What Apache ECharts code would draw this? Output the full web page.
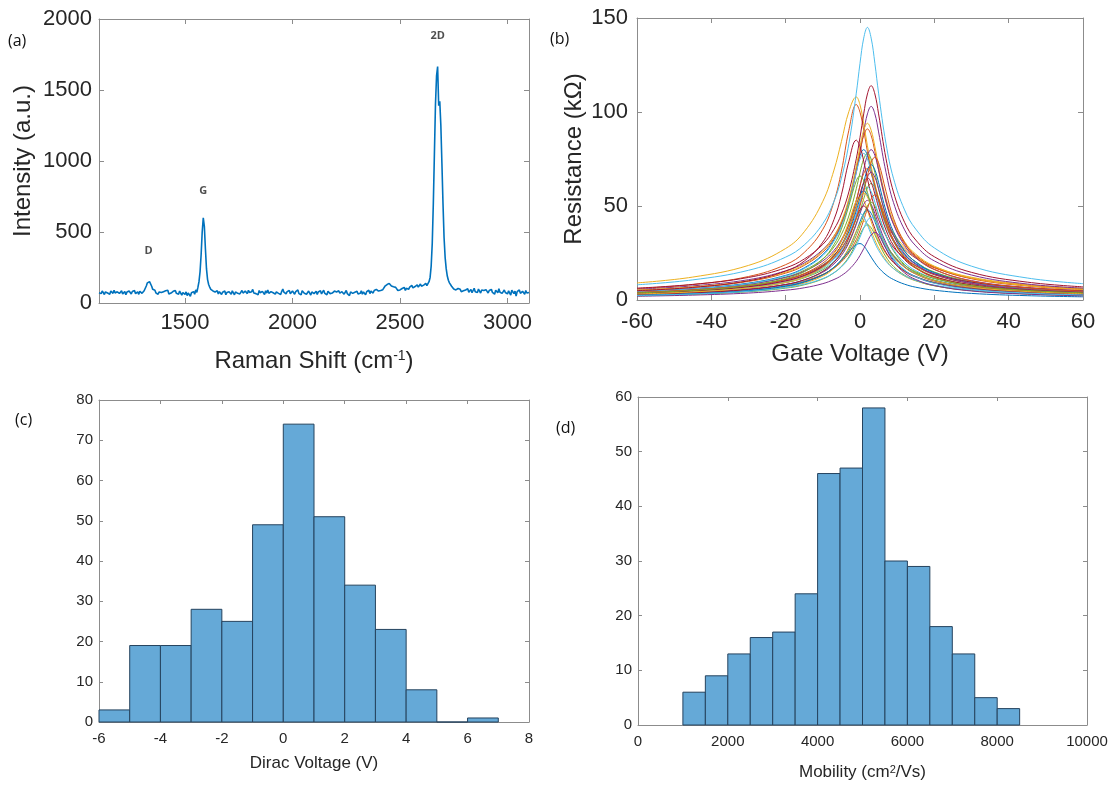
<!DOCTYPE html>
<html><head><meta charset="utf-8">
<script src="https://cdn.jsdelivr.net/npm/echarts@6/dist/echarts.min.js"></script>
<style>html,body{margin:0;padding:0;background:#fff}#c{width:1118px;height:785px}</style>
</head><body><div id="c"></div>
<script>
// ---------- (a) Raman spectrum ----------
const ramanStart = 1100, ramanStep = 5;
const ramanIntensity = [
72,80,66,85,74,60,78,88,70,76,62,84,73,68,90,71,58,79,82,67,
75,86,64,72,80,59,77,69,84,73,63,81,70,88,66,74,79,61,83,72,
68,78,86,98,120,142,155,150,140,118,96,82,90,70,84,62,78,92,74,68,
80,66,86,72,90,64,78,70,58,82,74,88,68,76,62,84,70,55,73,66,
60,78,52,70,64,48,72,58,80,62,92,75,110,150,220,340,500,600,540,380,
240,165,130,112,96,104,85,92,78,70,86,64,80,72,60,76,68,84,58,74,
66,80,70,62,86,74,58,78,92,68,82,64,76,88,70,60,84,72,66,90,
74,62,80,96,70,84,66,78,58,88,72,64,82,76,60,86,70,92,68,74,
80,66,72,84,62,78,90,68,74,60,82,98,76,86,64,80,70,88,66,76,
84,70,62,80,74,92,66,78,58,86,72,68,80,62,76,84,70,56,78,88,
66,74,82,60,78,70,86,64,72,90,68,76,58,82,74,66,80,70,62,84,
72,78,64,86,70,58,80,74,62,76,88,66,72,52,78,84,68,60,76,70,
82,64,74,68,86,62,78,70,58,80,72,90,66,84,76,70,88,82,96,92,
84,96,88,102,94,108,118,112,130,124,138,128,120,132,114,104,110,96,88,100,
92,84,102,96,110,88,104,118,96,112,100,124,106,98,116,108,128,112,120,134,
118,104,126,112,138,122,130,150,180,260,420,700,1050,1400,1600,1665,1390,1420,1250,980,
700,460,320,240,190,160,142,128,118,124,98,110,92,84,102,88,96,80,94,86,
78,92,84,100,76,88,96,72,86,104,80,90,74,98,84,70,92,80,88,76,
94,82,70,88,78,96,74,84,62,90,80,72,100,76,86,68,82,92,74,80,
64,86,72,56,90,78,66,84,48,80,74,92,68,58,82,76,62,88,70,78,
74];
const ramanTicks = [1500, 2000, 2500, 3000];
const peakNames = ['D', 'G', '2D'];
const peakLabelShift = [1330, 1585, 2675];
const peakLabelIntensity = [370, 790, 1880];

// ---------- (b) Resistance vs gate voltage ----------
const gateVoltage = [-60,-45,-30,-20,-15,-10,-7,-5,-3,-1,0,1,2,3,4,5,7,9,12,15,20,30,45,60];
const resistanceCurves = [
[4.6,6.1,9,13.1,17.1,24.2,32.1,40.3,52.7,69.4,76.9,80,76.9,69.4,60.7,52.7,40.3,32.1,24.2,19.4,14.5,9.6,6.3,4.7],
[6.1,8.2,12.5,18.8,25.3,37.6,52.4,68.5,90.3,104,99.9,90.3,78.9,68.5,59.6,52.4,41.7,34.3,27,22.3,17.1,11.6,7.9,5.9],
[9.1,12.2,18.4,27.4,36.3,52.5,69.1,84.3,100.2,108,103.8,93.7,82,71.2,61.9,54.4,43.3,35.6,28.1,23.1,17.7,12.1,8.2,6.2],
[5.7,7.5,10.8,15.5,19.7,26.8,34,41.3,51.9,67.9,78.2,89.4,99,103,99,89.4,67.9,51.9,37.3,28.8,20.8,13.3,8.5,6.3],
[4.4,5.8,8.5,12.2,15.8,21.8,28.2,34.9,44.7,59.2,67.7,75,78,75,67.7,59.2,44.7,34.9,25.7,20.3,14.9,9.7,6.3,4.7],
[8.1,10.7,15.8,22.8,29.3,40.6,52.5,64.8,83.1,110,125.9,139.3,145,139.3,125.9,110,83.1,64.8,47.9,37.7,27.7,18,11.7,8.7],
[6.3,8.3,12,17.1,21.8,29.6,37.6,45.7,57.5,75.1,86.5,99,109.6,114,109.6,99,75.1,57.5,41.3,31.9,23,14.7,9.5,7],
[4,5.3,7.6,10.8,13.8,18.7,23.8,28.9,36.3,47.4,54.6,62.5,69.2,72,69.2,62.5,47.4,36.3,26.1,20.2,14.5,9.3,6,4.4],
[5.1,6.7,9.9,14.3,18.4,25.5,32.9,40.7,52.1,69.1,79,87.5,91,87.5,79,69.1,52.1,40.7,30,23.7,17.4,11.3,7.4,5.5],
[5.3,7,10.2,14.8,19,26.3,34,42,53.9,71.3,81.6,90.3,94,90.3,81.6,71.3,53.9,42,31,24.4,18,11.7,7.6,5.6],
[4.4,5.8,8.4,12,15.3,20.8,26.4,32.1,40.3,52.7,60.7,69.4,76.9,80,76.9,69.4,52.7,40.3,29,22.4,16.2,10.3,6.6,4.9],
[3.4,4.5,6.5,9.3,11.8,16.1,20.5,24.9,31.2,40.9,47.1,53.8,59.6,62,59.6,53.8,40.9,31.2,22.4,17.4,12.5,8,5.1,3.8],
[4.4,5.9,8.7,12.8,16.7,23.6,31.3,39.3,51.4,67.7,75,78,75,67.7,59.2,51.4,39.3,31.3,23.6,19,14.1,9.4,6.2,4.6],
[5,6.7,10.2,15.4,20.7,30.8,42.8,56,73.8,85,81.7,73.8,64.5,56,48.7,42.8,34.1,28,22.1,18.2,13.9,9.5,6.5,4.8],
[3.3,4.4,6.5,9.5,12.4,17.6,23.3,29.2,38.2,50.3,55.7,58,55.7,50.3,44,38.2,29.2,23.3,17.6,14.1,10.5,7,4.6,3.4],
[3.9,5.2,7.6,11,14.1,19.6,25.3,31.3,40.1,53.1,60.8,67.3,70,67.3,60.8,53.1,40.1,31.3,23.1,18.2,13.4,8.7,5.7,4.2],
[3.2,4.2,6.4,9.5,12.5,18.2,24.6,31.5,41.7,52.9,55,52.9,47.7,41.7,36.2,31.5,24.6,19.9,15.4,12.5,9.5,6.4,4.2,3.2],
[3.8,5,7.1,10.2,13,17.7,22.4,27.3,34.3,44.8,51.6,59,65.3,68,65.3,59,44.8,34.3,24.6,19,13.7,8.8,5.6,4.1],
[2.9,3.8,5.5,7.8,9.9,13.5,17.2,20.9,26.2,34.3,39.5,45.1,50,52,50,45.1,34.3,26.2,18.8,14.6,10.5,6.7,4.3,3.2],
[3.4,4.4,6.5,9.4,12.1,16.8,21.7,26.8,34.4,45.5,52.1,57.7,60,57.7,52.1,45.5,34.4,26.8,19.8,15.6,11.5,7.4,4.9,3.6],
[3.6,4.8,7.1,10.2,13.1,18.2,23.5,29.1,37.2,49.3,56.4,62.5,65,62.5,56.4,49.3,37.2,29.1,21.5,16.9,12.4,8.1,5.3,3.9],
[2.7,3.6,5.2,7.5,9.7,13.4,17.4,21.5,27.5,36.4,41.7,46.1,48,46.1,41.7,36.4,27.5,21.5,15.8,12.5,9.2,6,3.9,2.9],
[3.1,4,5.7,8.1,10.1,13.6,17,20.3,25,32.1,36.9,42.5,48.6,53.8,56,53.8,42.5,32.1,22.5,17,12,7.4,4.8,3.5],
[2.4,3.2,4.7,6.9,9,12.7,16.8,21.2,27.7,36.5,40.4,42,40.4,36.5,31.9,27.7,21.2,16.8,12.7,10.2,7.6,5,3.3,2.5],
[3,3.9,5.8,8.3,10.7,14.8,19.2,23.7,30.4,40.2,46,50.9,53,50.9,46,40.2,30.4,23.7,17.5,13.8,10.1,6.6,4.3,3.2],
[2.2,3,4.4,6.3,8.1,11.2,14.5,17.9,22.9,30.4,34.7,38.4,40,38.4,34.7,30.4,22.9,17.9,13.2,10.4,7.6,5,3.2,2.4],
[2.7,3.5,5.3,7.9,10.4,15.2,20.6,26.4,34.9,44.2,46,44.2,39.9,34.9,30.3,26.4,20.6,16.7,12.9,10.4,7.9,5.3,3.5,2.7],
[2.9,3.8,5.6,8.2,10.7,15.2,20.1,25.2,33,43.4,48,50,48,43.4,38,33,25.2,20.1,15.2,12.2,9.1,6,4,3],
[2.5,3.3,4.9,7.3,9.5,13.4,17.4,21.2,25.7,29.4,30,28.8,26,22.8,19.8,17.2,13.4,10.9,8.4,6.8,5.2,3.5,2.3,1.7],
[4.1,5.4,7.8,10.9,13.8,18.5,23,27.5,34,43.5,50.1,57.7,66,73,76,73,57.7,43.5,30.5,23,16.3,10.1,6.5,4.7],
[3.2,4.3,6.4,9.3,12.2,17.3,22.9,28.7,37.6,49.5,54.8,57,54.8,49.5,43.3,37.6,28.7,22.9,17.3,13.9,10.3,6.8,4.5,3.4],
[2,2.6,3.7,5.2,6.5,8.7,10.9,13,16.1,20.6,23.7,27.3,31.2,34.6,36,34.6,27.3,20.6,14.4,10.9,7.7,4.8,3.1,2.2],
[3.8,5.1,7.7,11.4,15,21.8,29.5,37.8,50.1,63.4,66,63.4,57.3,50.1,43.5,37.8,29.5,23.9,18.5,15,11.4,7.7,5.1,3.8],
[2.4,3.2,4.6,6.6,8.4,11.4,14.5,17.6,22.2,29,33.4,38.2,42.3,44,42.3,38.2,29,22.2,15.9,12.3,8.9,5.7,3.7,2.7]
];

// ---------- (c) Dirac voltage histogram ----------
const diracBinEdges = [-6,-5,-4,-3,-2,-1,0,1,2,3,4,5,6,7];
const diracCounts = [3,19,19,28,25,49,74,51,34,23,8,0,1];

// ---------- (d) Mobility histogram ----------
const mobilityBinEdges = [1000,1500,2000,2500,3000,3500,4000,4500,5000,5500,6000,6500,7000,7500,8000,8500];
const mobilityCounts = [6,9,13,16,17,24,46,47,58,30,29,18,13,5,3];

// ---------- styling ----------
const FONT = '"Liberation Sans", Arial, sans-serif';
const LABEL_FONT = '"Open Sans", "DejaVu Sans", sans-serif';
const axisGray = '#8c8c8c';
const textColor = '#262626';
const matlabColors = ['#0072BD','#D95319','#EDB120','#7E2F8E','#77AC30','#4DBEEE','#A2142F'];
const supRich = {sup: {fontSize: 14, verticalAlign: 'top', fontFamily: FONT, color: textColor, padding: [0, 0, 6, 0]}};
const supRichSmall = {sup: {fontSize: 11, verticalAlign: 'top', fontFamily: FONT, color: textColor, padding: [0, 0, 5, 0]}};
const plainNumber = v => String(v);

const xAxes = [], yAxes = [];
function addBox(g, xo, yo, big) {
  const fs = big ? 22 : 15;
  const tickLen = big ? 5 : 4;
  const base = {
    gridIndex: g, type: 'value', splitLine: {show: false},
    axisLine: {show: true, onZero: false, lineStyle: {color: axisGray, width: 1}},
    axisTick: {show: true, inside: true, length: tickLen, lineStyle: {color: axisGray}},
    axisLabel: {color: textColor, fontSize: fs, fontFamily: FONT, formatter: plainNumber}
  };
  const merge = (a, b) => {
    const r = Object.assign({}, a, b);
    ['axisLine','axisTick','axisLabel','nameTextStyle'].forEach(k => {
      if (a[k] || b[k]) r[k] = Object.assign({}, a[k] || {}, b[k] || {});
    });
    return r;
  };
  xAxes.push(merge(base, Object.assign({position: 'bottom'}, xo)));
  const xt = merge(base, Object.assign({position: 'top'}, xo));
  xt.axisLabel = Object.assign({}, xt.axisLabel, {show: false}); xt.name = '';
  xAxes.push(xt);
  yAxes.push(merge(base, Object.assign({position: 'left'}, yo)));
  const yt = merge(base, Object.assign({position: 'right'}, yo));
  yt.axisLabel = Object.assign({}, yt.axisLabel, {show: false}); yt.name = '';
  yAxes.push(yt);
}

// (a)
addBox(0,
  {min: 1100, max: 3100, axisLabel: {customValues: ramanTicks, margin: 9}, axisTick: {customValues: ramanTicks},
   name: 'Raman Shift (cm{sup|-1})', nameLocation: 'middle', nameGap: 46,
   nameTextStyle: {fontSize: 24, color: textColor, fontFamily: FONT, rich: supRich}},
  {min: 0, max: 2000, interval: 500, axisLabel: {margin: 7},
   name: 'Intensity (a.u.)', nameLocation: 'middle', nameGap: 64,
   nameTextStyle: {fontSize: 24, color: textColor, fontFamily: FONT}}, true);
// (b)
addBox(1,
  {min: -60, max: 60, interval: 20, axisLabel: {margin: 11},
   name: 'Gate Voltage (V)', nameLocation: 'middle', nameGap: 42,
   nameTextStyle: {fontSize: 24, color: textColor, fontFamily: FONT}},
  {min: 0, max: 150, interval: 50, axisLabel: {margin: 9},
   name: 'Resistance (k\u03A9)', nameLocation: 'middle', nameGap: 51,
   nameTextStyle: {fontSize: 24, color: textColor, fontFamily: FONT}}, true);
// (c)
addBox(2,
  {min: -6, max: 8, interval: 2, axisLabel: {margin: 9},
   name: 'Dirac Voltage (V)', nameLocation: 'middle', nameGap: 33,
   nameTextStyle: {fontSize: 17, color: textColor, fontFamily: FONT}},
  {min: 0, max: 80, interval: 10, axisLabel: {margin: 6}}, false);
// (d)
addBox(3,
  {min: 0, max: 10000, interval: 2000, axisLabel: {margin: 9},
   name: 'Mobility (cm{sup|2}/Vs)', nameLocation: 'middle', nameGap: 39,
   nameTextStyle: {fontSize: 17, color: textColor, fontFamily: FONT, rich: supRichSmall}},
  {min: 0, max: 60, interval: 10, axisLabel: {margin: 6}}, false);

function histSeries(axisBase, edges, counts) {
  return {
    type: 'custom', xAxisIndex: axisBase, yAxisIndex: axisBase,
    data: counts.map((c, i) => [edges[i], edges[i + 1], c]),
    encode: {x: [0, 1], y: 2},
    renderItem: function (params, api) {
      const p0 = api.coord([api.value(0), 0]);
      const p1 = api.coord([api.value(1), api.value(2)]);
      return {type: 'rect',
        shape: {x: p0[0], y: p1[1], width: p1[0] - p0[0], height: p0[1] - p1[1]},
        style: {fill: '#65a9d7', stroke: '#25435e', lineWidth: 1}};
    }
  };
}

const series = [];
series.push({
  type: 'line', xAxisIndex: 0, yAxisIndex: 0, showSymbol: false, symbol: 'none',
  lineStyle: {color: '#0072BD', width: 1.6},
  data: ramanIntensity.map((v, i) => [ramanStart + i * ramanStep, v])
});
series.push({
  type: 'scatter', xAxisIndex: 0, yAxisIndex: 0, symbolSize: 0,
  data: peakNames.map((n, i) => [peakLabelShift[i], peakLabelIntensity[i], n]),
  label: {show: true, position: 'inside', formatter: p => p.data[2],
    fontFamily: LABEL_FONT, fontWeight: 'bold', fontSize: 11, color: '#222'}
});
resistanceCurves.forEach((curve, i) => {
  series.push({
    type: 'line', xAxisIndex: 2, yAxisIndex: 2, showSymbol: false, symbol: 'none',
    smooth: 0.4, lineStyle: {color: matlabColors[i % 7], width: 1},
    data: curve.map((r, j) => [gateVoltage[j], r])
  });
});
series.push(histSeries(4, diracBinEdges, diracCounts));
series.push(histSeries(6, mobilityBinEdges, mobilityCounts));

const panelText = (t, l, tp) => ({type: 'text', left: l, top: tp,
  style: {text: t, fontSize: 16, fontFamily: LABEL_FONT, fill: '#111'}});

const option = {
  animation: false,
  backgroundColor: '#fff',
  grid: [
    {left: 99, top: 19, width: 430, height: 284},
    {left: 637, top: 18, width: 446, height: 282},
    {left: 99, top: 400, width: 430, height: 322},
    {left: 638, top: 397, width: 449, height: 328}
  ],
  xAxis: xAxes,
  yAxis: yAxes,
  series: series,
  graphic: [
    panelText('(a)', 8, 33),
    panelText('(b)', 550, 31),
    panelText('(c)', 15, 412),
    panelText('(d)', 556, 420)
  ]
};
const chart = echarts.init(document.getElementById('c'), null, {renderer: 'canvas'});
chart.setOption(option);
</script></body></html>
